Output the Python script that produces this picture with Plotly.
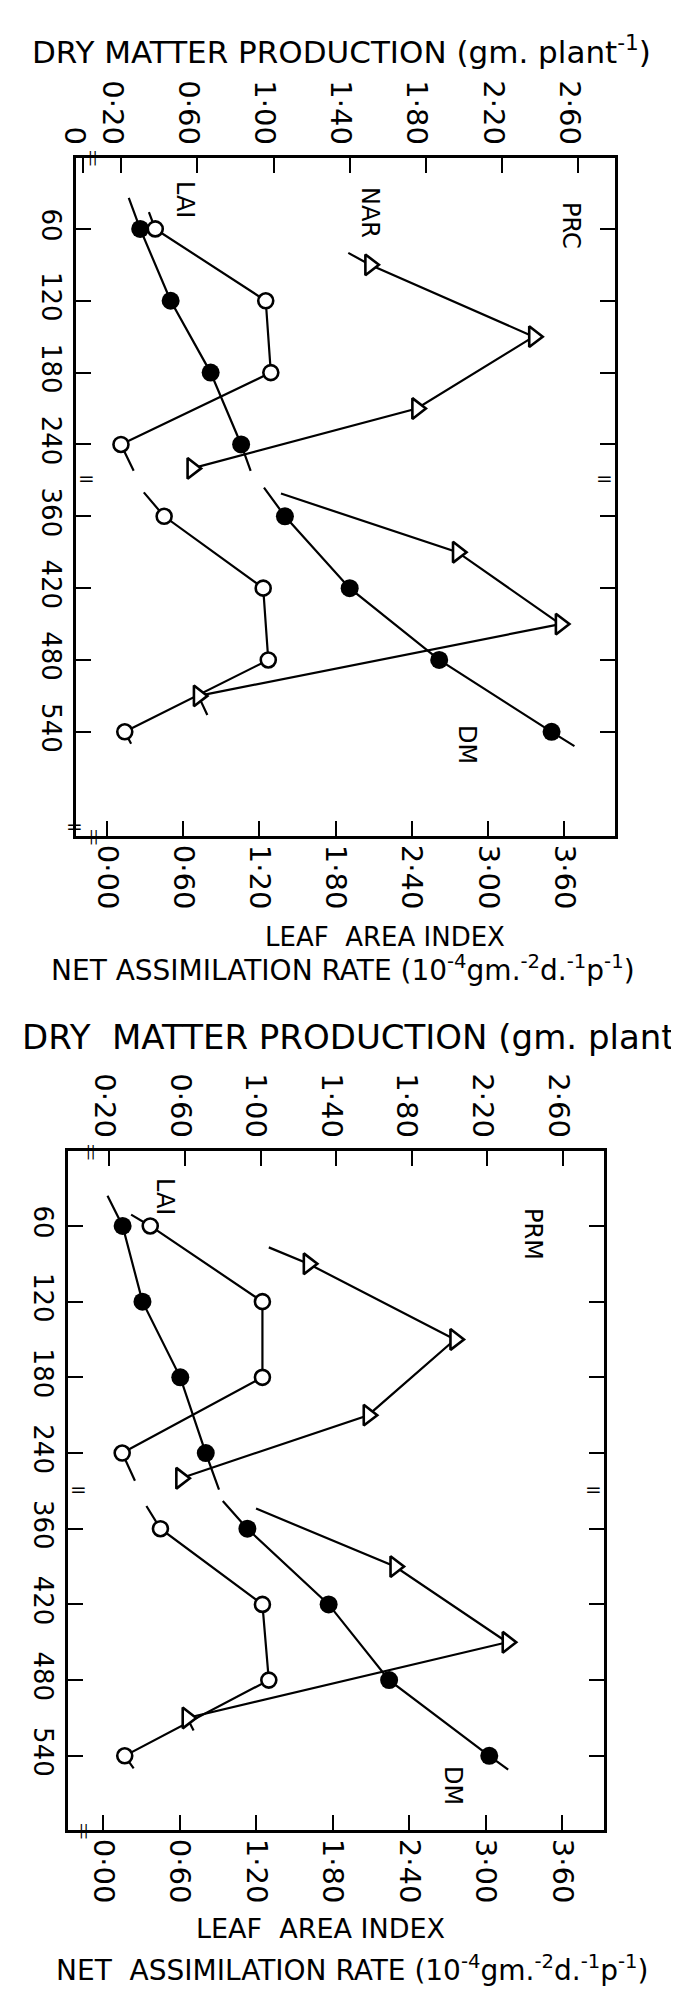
import plotly.graph_objects as go

FONT = "DejaVu Sans"
INK = "black"
W, H = 679, 1989

# ---- values ----
days = [60, 120, 180, 240, 360, 420, 480, 540]
nar_days = [90, 150, 210, 260, 390, 450, 510]

# upper panel: PRC
prc_dm = [0.30, 0.46, 0.67, 0.83, 1.06, 1.40, 1.87, 2.46]
prc_lai = [0.38, 1.25, 1.29, 0.11, 0.45, 1.23, 1.27, 0.14]
prc_nar = [2.07, 3.36, 2.44, 0.67, 2.76, 3.57, 0.72]
# where each drawn line runs past its first/last point (season 1 start, end, season 2 start, end)
prc_dm_tail_days = [34, 262, 336, 552]
prc_dm_tail_vals = [0.24, 0.88, 0.95, 2.58]
prc_lai_tail_days = [46, 262, 340, 550]
prc_lai_tail_vals = [0.33, 0.21, 0.29, 0.19]
prc_nar_tail_days = [80, None, 341, 526]
prc_nar_tail_vals = [1.90, None, 1.37, 0.79]

# lower panel: PRM
prm_dm = [0.27, 0.375, 0.575, 0.71, 0.93, 1.36, 1.68, 2.21]
prm_lai = [0.37, 1.25, 1.25, 0.15, 0.45, 1.25, 1.30, 0.17]
prm_nar = [1.61, 2.76, 2.08, 0.61, 2.29, 3.17, 0.66]
prm_dm_tail_days = [36, 269, 338, 551]
prm_dm_tail_vals = [0.19, 0.78, 0.80, 2.31]
prm_lai_tail_days = [51, 262, 342, 550]
prm_lai_tail_vals = [0.22, 0.25, 0.34, 0.24]
prm_nar_tail_days = [77, None, 344, 520]
prm_nar_tail_vals = [1.30, None, 1.20, 0.71]

dm_ticks = [0.2, 0.6, 1.0, 1.4, 1.8, 2.2, 2.6]
lai_ticks = [0.0, 0.6, 1.2, 1.8, 2.4, 3.0, 3.6]


def axis_pos(day):
    # broken day axis: 240 -> 360 takes a single step
    return day / 60 if day < 300 else (day - 60) / 60


def dot(v):
    return f"{v:.2f}".replace(".", "·")


def px_x(p):
    return p / W


def px_y(p):
    return 1 - p / H


def add_series(fig, d, v, tail_d, tail_v, xaxis, yaxis, marker):
    for s, (lo, hi) in enumerate([(0, 300), (300, 600)]):
        xs = [val for day, val in zip(d, v) if lo <= day < hi]
        ys = [axis_pos(day) for day in d if lo <= day < hi]
        lx, ly = list(xs), list(ys)
        if tail_d[2 * s] is not None:
            lx.insert(0, tail_v[2 * s])
            ly.insert(0, axis_pos(tail_d[2 * s]))
        if tail_d[2 * s + 1] is not None:
            lx.append(tail_v[2 * s + 1])
            ly.append(axis_pos(tail_d[2 * s + 1]))
        fig.add_trace(go.Scatter(x=lx, y=ly, mode="lines", xaxis=xaxis, yaxis=yaxis,
                                 line=dict(color=INK, width=2.2), hoverinfo="skip"))
        fig.add_trace(go.Scatter(x=xs, y=ys, mode="markers", xaxis=xaxis, yaxis=yaxis,
                                 marker=marker))


dm_marker = dict(symbol="circle", size=18, color=INK)
lai_marker = dict(symbol="circle", size=15, color="white", line=dict(color=INK, width=2.6))
nar_marker = dict(symbol="triangle-right", size=18, color="white", line=dict(color=INK, width=2.6))

fig = go.Figure()
# panel 1: x (LAI/NAR, bottom), x2 (DM, top), y
add_series(fig, days, prc_dm, prc_dm_tail_days, prc_dm_tail_vals, "x2", "y", dm_marker)
add_series(fig, days, prc_lai, prc_lai_tail_days, prc_lai_tail_vals, "x", "y", lai_marker)
add_series(fig, nar_days, prc_nar, prc_nar_tail_days, prc_nar_tail_vals, "x", "y", nar_marker)
# panel 2: x3 (bottom), x4 (top), y2
add_series(fig, days, prm_dm, prm_dm_tail_days, prm_dm_tail_vals, "x4", "y2", dm_marker)
add_series(fig, days, prm_lai, prm_lai_tail_days, prm_lai_tail_vals, "x3", "y2", lai_marker)
add_series(fig, nar_days, prm_nar, prm_nar_tail_days, prm_nar_tail_vals, "x3", "y2", nar_marker)

frame = dict(showline=True, linecolor=INK, linewidth=3, showgrid=False, zeroline=False,
             automargin=False, ticks="inside", tickcolor=INK, tickwidth=2, ticklen=15,
             tickangle=90, tickfont=dict(family=FONT, size=29, color=INK))
yframe = dict(frame, tickfont=dict(family=FONT, size=26, color=INK))

p1_dom_x = [px_x(68), px_x(607)]
p1_dom_y = [px_y(828), px_y(150)]
p2_dom_x = [px_x(60), px_x(596)]
p2_dom_y = [px_y(1822), px_y(1143)]

fig.update_layout(
    width=W, height=H,
    margin=dict(l=0, r=0, t=0, b=0, autoexpand=False),
    paper_bgcolor="white", plot_bgcolor="white",
    showlegend=False,
    font=dict(family=FONT, color=INK),
    xaxis=dict(frame, domain=p1_dom_x, anchor="y", range=[-0.244, 4.0], mirror=True,
               tickvals=lai_ticks, ticktext=[dot(t) for t in lai_ticks]),
    xaxis2=dict(frame, domain=p1_dom_x, anchor="y", overlaying="x", side="top",
                range=[-0.037, 2.793], ticklabelshift=-9, tickvals=[0] + dm_ticks,
                ticktext=["0"] + [dot(t) for t in dm_ticks]),
    yaxis=dict(yframe, domain=p1_dom_y, anchor="x", range=[9.45, 0.013], mirror="ticks",
               tickvals=[axis_pos(d) for d in days], ticktext=[str(d) for d in days]),
    xaxis3=dict(frame, domain=p2_dom_x, anchor="y2", range=[-0.275, 3.929], mirror=True,
                tickvals=lai_ticks, ticktext=[dot(t) for t in lai_ticks]),
    xaxis4=dict(frame, domain=p2_dom_x, anchor="y2", overlaying="x3", side="top",
                range=[-0.019, 2.817], ticklabelshift=-5,
                tickvals=dm_ticks, ticktext=[dot(t) for t in dm_ticks]),
    yaxis2=dict(yframe, domain=p2_dom_y, anchor="x3", range=[8.98, 0.01], mirror="ticks",
                tickvals=[axis_pos(d) for d in days], ticktext=[str(d) for d in days]),
)

nar_title = "NET ASSIMILATION RATE (10<sup>-4</sup>gm.<sup>-2</sup>d.<sup>-1</sup>p<sup>-1</sup>)"


def note(text, x, y, size, angle=0, xanchor="center"):
    fig.add_annotation(text=text, x=px_x(x), y=px_y(y), xref="paper", yref="paper",
                       showarrow=False, textangle=angle, xanchor=xanchor, yanchor="middle",
                       font=dict(family=FONT, size=size, color=INK))


# headings and axis titles
note("DRY MATTER PRODUCTION (gm. plant<sup>-1</sup>)", 22, 42, 31, xanchor="left")
note("LEAF  AREA INDEX", 377, 929, 26)
note(nar_title, 335, 960, 28)
note("DRY  MATTER PRODUCTION (gm. plant<sup>-1</sup>)", 12, 1027, 34, xanchor="left")
note("LEAF  AREA INDEX", 312, 1920, 27)
note(nar_title.replace("NET ", "NET  "), 344, 1960, 28)

# series labels inside the panels
note("LAI", 177, 191, 24, 90)
note("NAR", 362, 204, 24, 90)
note("PRC", 563, 217, 24, 90)
note("DM", 459, 736, 24, 90)
note("LAI", 157, 1188, 24, 90)
note("PRM", 525, 1226, 24, 90)
note("DM", 445, 1777, 24, 90)

# axis break marks
for yref, xl, xr in [("y", 68, 607), ("y2", 60, 596)]:
    for xp in (xl, xr):
        fig.add_annotation(text="=", x=px_x(xp), y=4.47, xref="paper", yref=yref,
                           showarrow=False, font=dict(family=FONT, size=20, color=INK))
for xp, yp in [(85, 828), (84, 150), (75, 1822), (82, 1143)]:
    note("||", xp, yp, 14)
note("=", 66, 818, 20)

fig.write_html("out.html")
